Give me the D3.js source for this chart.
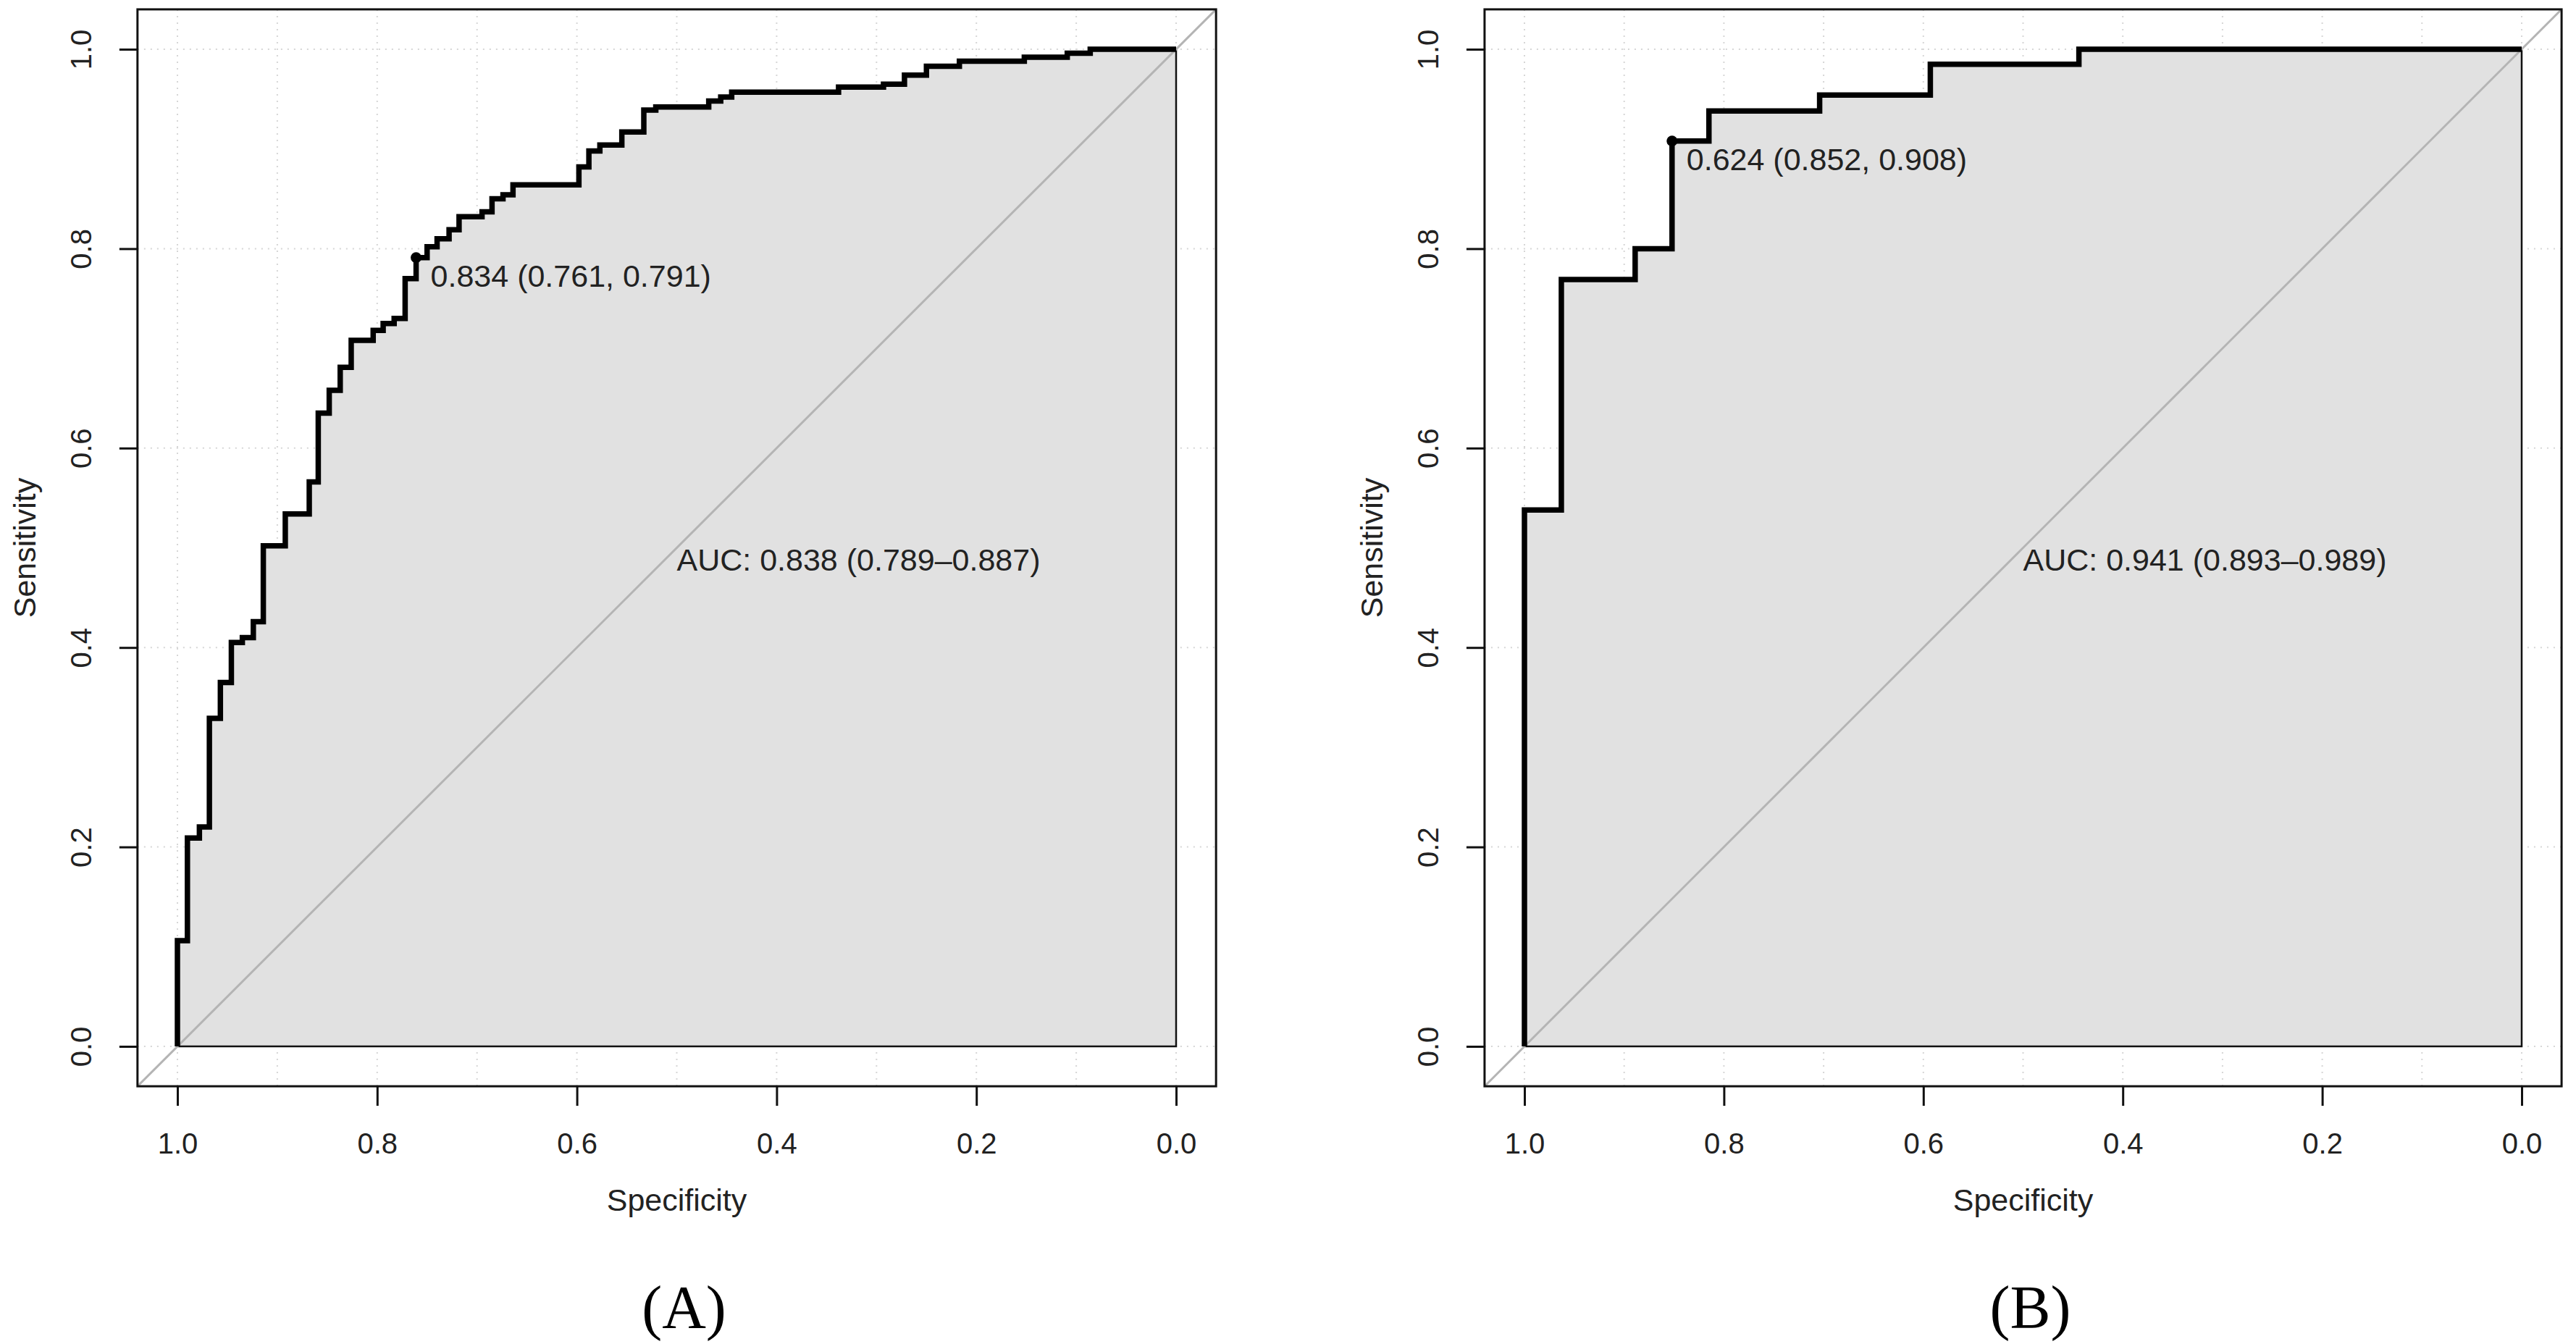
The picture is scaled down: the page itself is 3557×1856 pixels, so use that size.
<!DOCTYPE html>
<html>
<head>
<meta charset="utf-8">
<script src="https://cdn.jsdelivr.net/npm/d3@7"></script>
<style>
  body { margin: 0; background: #fff; }
  svg { display: block; }
  text { font-family: "Liberation Sans", Arial, sans-serif; fill: #222; }
</style>
</head>
<body>
<div id="chart"></div>
<script>
var svgWidth = 3557;
var svgHeight = 1856;

// ROC curve corners (specificity, sensitivity)
var specA = [1.000, 1.000, 0.990, 0.978, 0.968, 0.957, 0.946, 0.935, 0.924, 0.914,
  0.892, 0.868, 0.859, 0.848, 0.837, 0.826, 0.804, 0.794, 0.783, 0.772, 0.761,
  0.750, 0.740, 0.728, 0.718, 0.695, 0.685, 0.674, 0.664, 0.598, 0.588,
  0.577, 0.555, 0.533, 0.521, 0.468, 0.456, 0.445, 0.338, 0.293, 0.272,
  0.250, 0.217, 0.152, 0.109, 0.086, 0.000];
var sensA = [0.000, 0.106, 0.209, 0.220, 0.329, 0.365, 0.405, 0.410, 0.426, 0.502,
  0.534, 0.566, 0.635, 0.658, 0.681, 0.708, 0.718, 0.725, 0.730, 0.770, 0.791,
  0.802, 0.810, 0.819, 0.832, 0.837, 0.850, 0.854, 0.864, 0.882, 0.898,
  0.904, 0.917, 0.939, 0.942, 0.948, 0.952, 0.957, 0.962, 0.965, 0.974,
  0.983, 0.988, 0.992, 0.996, 1.000, 1.000];

var specB = [1.000, 1.000, 0.963, 0.889, 0.852, 0.815, 0.704, 0.593, 0.444, 0.000];
var sensB = [0.000, 0.538, 0.769, 0.800, 0.908, 0.938, 0.954, 0.985, 1.000, 1.000];

// best threshold and AUC annotations
var bestA = { spec: 0.761, sens: 0.791, label: "0.834 (0.761, 0.791)" };
var bestB = { spec: 0.852, sens: 0.908, label: "0.624 (0.852, 0.908)" };
var aucLabels = ["AUC: 0.838 (0.789\u20130.887)", "AUC: 0.941 (0.893\u20130.989)"];
var panelNames = ["(A)", "(B)"];

var tickValues = [1.0, 0.8, 0.6, 0.4, 0.2, 0.0];
var gridX = [0, 0.1, 0.2, 0.3, 0.4, 0.5, 0.6, 0.7, 0.8, 0.9, 1];
var gridY = [0, 0.2, 0.4, 0.6, 0.8, 1];

var svg = d3.select("#chart")
  .append("svg")
  .attr("width", svgWidth)
  .attr("height", svgHeight);

// data region of each panel (spec 1 -> 0 left to right)
var panels = [
  { x0: 245, x1: 1624, spec: specA, sens: sensA, best: bestA },
  { x0: 2105, x1: 3482, spec: specB, sens: sensB, best: bestB }
];
var yTop = 68, yBottom = 1445;

panels.forEach(function(p, i) {
  var xScale = d3.scaleLinear().domain([1, 0]).range([p.x0, p.x1]);
  var yScale = d3.scaleLinear().domain([0, 1]).range([yBottom, yTop]);

  // R style box: 4% beyond the data range
  var bx0 = xScale(1.04), bx1 = xScale(-0.04);
  var by0 = yScale(1.04), by1 = yScale(-0.04);

  var g = svg.append("g");
  var clipId = "clip" + i;
  g.append("clipPath").attr("id", clipId)
    .append("rect")
    .attr("x", bx0).attr("y", by0)
    .attr("width", bx1 - bx0).attr("height", by1 - by0);

  var inner = g.append("g").attr("clip-path", "url(#" + clipId + ")");

  // grid
  inner.selectAll(".gx").data(gridX).enter().append("line")
    .attr("x1", d => xScale(d)).attr("x2", d => xScale(d))
    .attr("y1", by0).attr("y2", by1)
    .attr("stroke", "#d6d6d6").attr("stroke-width", 2)
    .attr("stroke-dasharray", "2,7");
  inner.selectAll(".gy").data(gridY).enter().append("line")
    .attr("y1", d => yScale(d)).attr("y2", d => yScale(d))
    .attr("x1", bx0).attr("x2", bx1)
    .attr("stroke", "#d6d6d6").attr("stroke-width", 2)
    .attr("stroke-dasharray", "2,7");

  var pts = p.spec.map((s, k) => [s, p.sens[k]]);

  // AUC polygon
  var polyPts = pts.concat([[0, 0]]);
  inner.append("path")
    .attr("d", d3.line().x(d => xScale(d[0])).y(d => yScale(d[1])).curve(d3.curveStepAfter)(polyPts) + "Z")
    .attr("fill", "#e1e1e1")
    .attr("stroke", "#111")
    .attr("stroke-width", 2.5);

  // identity line
  inner.append("line")
    .attr("x1", xScale(1.04)).attr("y1", yScale(-0.04))
    .attr("x2", xScale(-0.04)).attr("y2", yScale(1.04))
    .attr("stroke", "#b4b4b4").attr("stroke-width", 3);

  // ROC curve
  inner.append("path")
    .attr("d", d3.line().x(d => xScale(d[0])).y(d => yScale(d[1])).curve(d3.curveStepAfter)(pts))
    .attr("fill", "none")
    .attr("stroke", "#000")
    .attr("stroke-width", 7.5)
    .attr("stroke-linejoin", "miter");

  // best threshold
  g.append("circle")
    .attr("cx", xScale(p.best.spec)).attr("cy", yScale(p.best.sens))
    .attr("r", 7.5).attr("fill", "#000");
  g.append("text")
    .attr("x", xScale(p.best.spec) + 20)
    .attr("y", yScale(p.best.sens) + 40)
    .attr("font-size", 43)
    .text(p.best.label);

  g.append("text")
    .attr("x", xScale(0.5))
    .attr("y", yScale(0.5) + 31)
    .attr("font-size", 43)
    .text(aucLabels[i]);

  // box
  g.append("rect")
    .attr("x", bx0).attr("y", by0)
    .attr("width", bx1 - bx0).attr("height", by1 - by0)
    .attr("fill", "none").attr("stroke", "#111").attr("stroke-width", 3);

  // axes
  var bottomAxis = d3.axisBottom(xScale)
    .tickValues(tickValues)
    .tickFormat(d3.format(".1f"))
    .tickSize(27)
    .tickPadding(38);
  var xAxis = g.append("g")
    .attr("transform", `translate(0, ${by1})`)
    .call(bottomAxis);
  xAxis.select(".domain").remove();
  xAxis.selectAll("line").attr("stroke", "#111").attr("stroke-width", 3);
  xAxis.selectAll("text").attr("font-size", 40).attr("fill", "#222")
    .attr("font-family", "Liberation Sans, Arial, sans-serif");

  var leftAxis = d3.axisLeft(yScale)
    .tickValues(tickValues)
    .tickFormat(d3.format(".1f"))
    .tickSize(25);
  var yAxis = g.append("g")
    .attr("transform", `translate(${bx0}, 0)`)
    .call(leftAxis);
  yAxis.select(".domain").remove();
  yAxis.selectAll("line").attr("stroke", "#111").attr("stroke-width", 3);
  yAxis.selectAll("text")
    .attr("x", 0).attr("y", -64).attr("dy", null)
    .attr("transform", "rotate(-90)")
    .attr("text-anchor", "middle")
    .attr("font-size", 40).attr("fill", "#222")
    .attr("font-family", "Liberation Sans, Arial, sans-serif");

  // axis titles
  g.append("text")
    .attr("x", xScale(0.5)).attr("y", 1672)
    .attr("text-anchor", "middle")
    .attr("font-size", 43)
    .text("Specificity");

  g.append("text")
    .attr("transform", `translate(${bx0 - 141}, ${yScale(0.5)}) rotate(-90)`)
    .attr("text-anchor", "middle")
    .attr("font-size", 43)
    .text("Sensitivity");

  // panel label
  g.append("text")
    .attr("x", xScale(0.5) + 10).attr("y", 1834)
    .attr("text-anchor", "middle")
    .attr("font-size", 84)
    .style("font-family", "'Liberation Serif', 'Times New Roman', serif")
    .style("fill", "#000")
    .text(panelNames[i]);
});
</script>
</body>
</html>
